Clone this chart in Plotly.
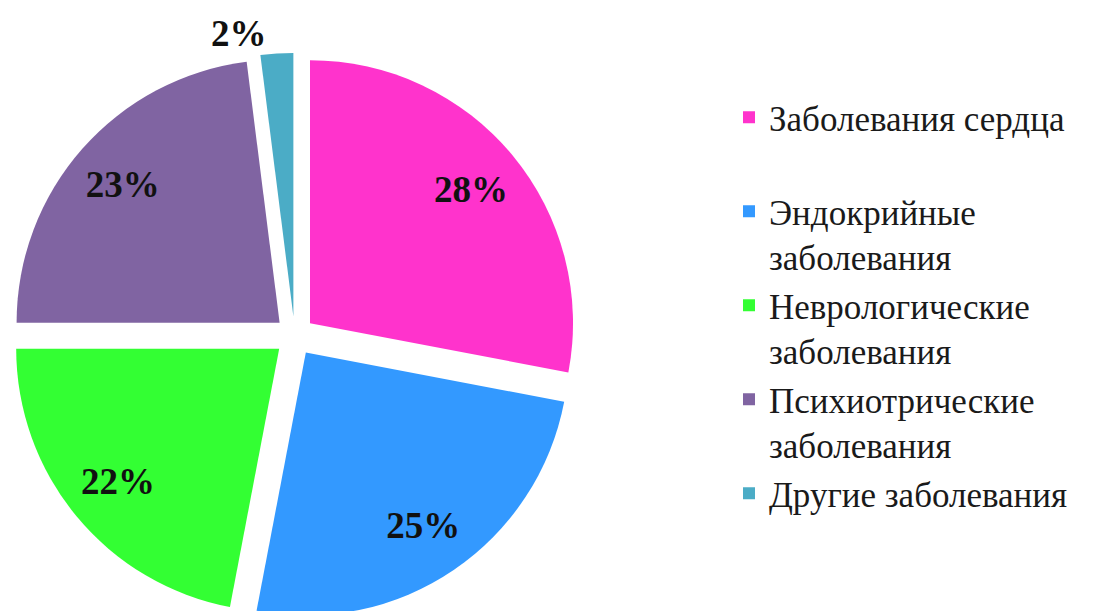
import plotly.graph_objects as go

labels = ["Заболевания сердца<br> ", "Эндокрийные<br>заболевания", "Неврологические<br>заболевания",
          "Психиотрические<br>заболевания", "Другие заболевания"]
values = [28, 25, 22, 23, 2]
colors = ["#FF33CC", "#3399FF", "#33FF33", "#8064A2", "#4BACC6"]
inside_labels = ["28%", "25%", "22%", "23%", ""]
outside_labels = ["", "", "", "", "2%"]

W, H = 1096, 611
PULL = 0.076
DOMAIN = dict(x=[3.6 / W, 569.6 / W], y=[0, 1 - 44.8 / H])
SERIF = "Liberation Serif, Times New Roman, serif"
label_font = dict(family=SERIF, size=37, color="#111111", weight="bold")

fig = go.Figure()
# main pie: slices, legend and the outside "2%" label
fig.add_trace(go.Pie(
    labels=labels,
    values=values,
    text=outside_labels,
    textinfo="text",
    textposition="outside",
    outsidetextfont=label_font,
    marker=dict(colors=colors, line=dict(width=0)),
    pull=[PULL] * 5,
    sort=False,
    direction="clockwise",
    rotation=0,
    domain=DOMAIN,
    hoverinfo="label+percent",
))
# transparent ring with the same geometry, only used to place the inside labels further out
fig.add_trace(go.Pie(
    labels=labels,
    values=values,
    text=inside_labels,
    textinfo="text",
    textposition="inside",
    insidetextorientation="horizontal",
    insidetextfont=label_font,
    marker=dict(colors=["rgba(0,0,0,0)"] * 5, line=dict(width=0)),
    hole=0.59,
    pull=[PULL] * 5,
    sort=False,
    direction="clockwise",
    rotation=0,
    domain=DOMAIN,
    showlegend=False,
    hoverinfo="skip",
))
fig.update_layout(
    width=W, height=H,
    margin=dict(l=0, r=0, t=0, b=0, autoexpand=False),
    paper_bgcolor="white",
    plot_bgcolor="white",
    showlegend=True,
    legend=dict(
        x=721 / W, xanchor="left", y=1 - 80 / H, yanchor="top",
        font=dict(family=SERIF, size=35, color="#1a1a1a"),
        valign="top",
        bgcolor="rgba(0,0,0,0)",
    ),
)
fig.write_html("out.html")
